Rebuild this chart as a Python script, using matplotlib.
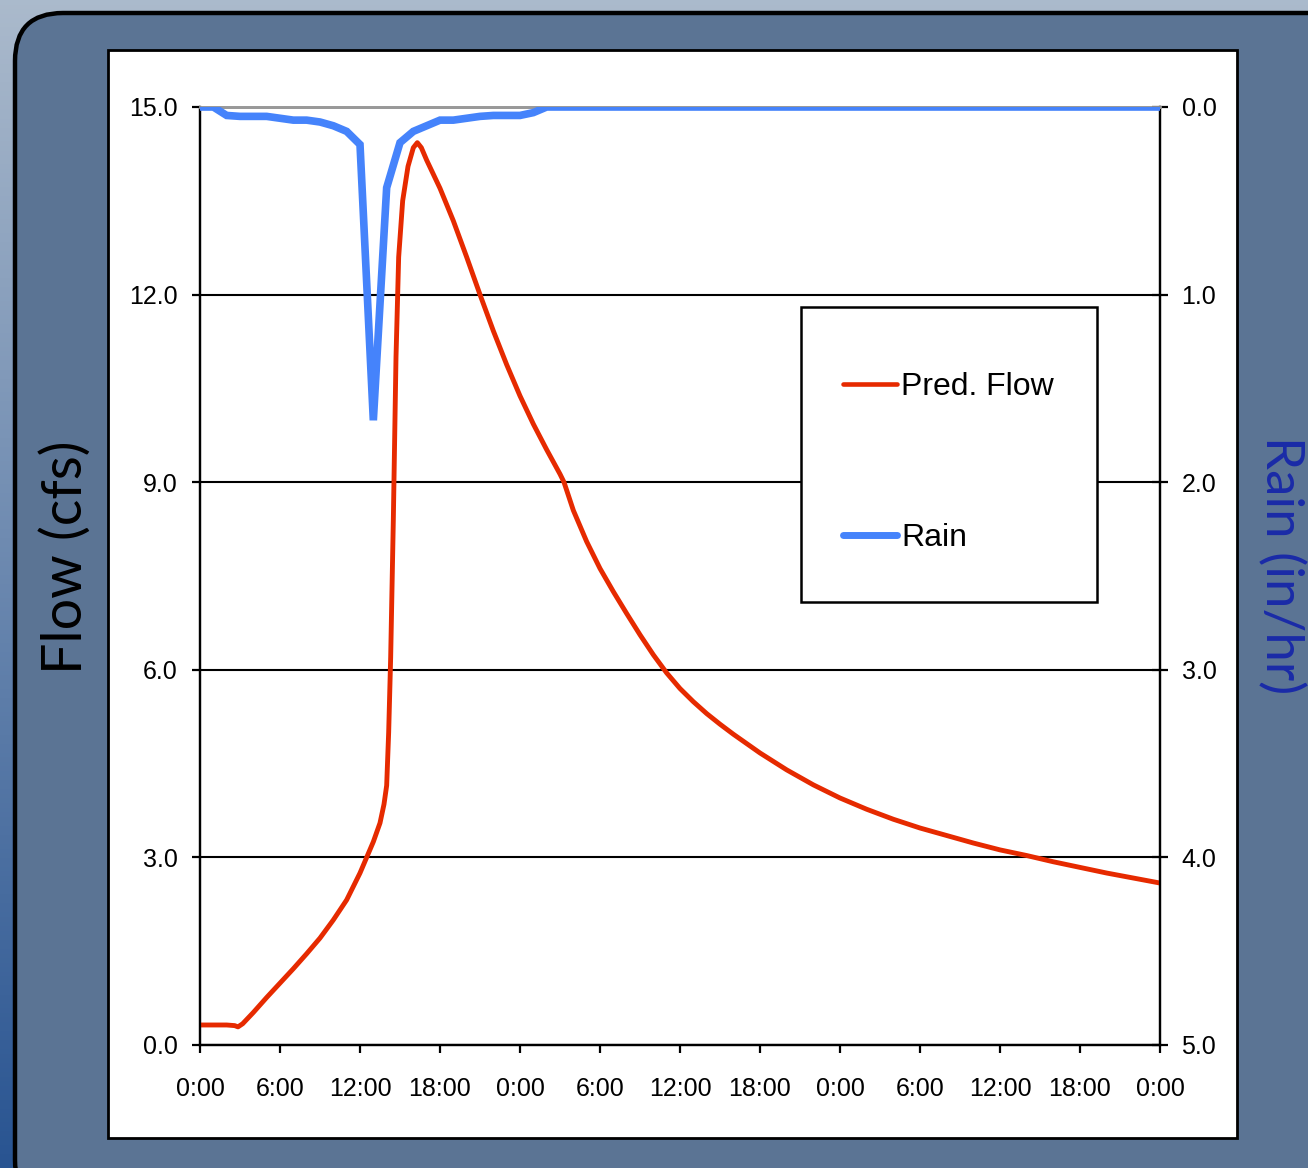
import matplotlib
matplotlib.use("Agg")
import matplotlib.pyplot as plt
import numpy as np
from matplotlib.patches import FancyBboxPatch, Rectangle
from matplotlib.lines import Line2D

# ---------------- data ----------------
flow_hours = [0, 1, 2, 2.6, 2.85, 3.2, 4, 5, 6, 7, 8, 9, 10, 11, 12, 13, 13.5,
              13.8, 14.0, 14.15, 14.3, 14.5, 14.7, 14.9, 15.2, 15.6, 16.0,
              16.3, 16.6, 17, 18, 19, 20, 21, 22, 23, 24, 25, 26, 27, 27.3,
              28, 29, 30, 31, 32, 33, 34, 35, 36, 37, 38, 39, 40, 41, 42, 44,
              46, 48, 50, 52, 54, 56, 58, 60, 62, 64, 66, 68, 70, 72]
flow_cfs = [0.32, 0.32, 0.32, 0.31, 0.29, 0.34, 0.52, 0.76, 0.99, 1.22, 1.46,
            1.71, 2.00, 2.32, 2.75, 3.25, 3.55, 3.85, 4.15, 5.0, 6.2, 8.4,
            11.0, 12.6, 13.5, 14.05, 14.35, 14.43, 14.35, 14.15, 13.7, 13.18,
            12.6, 12.0, 11.42, 10.88, 10.38, 9.93, 9.52, 9.13, 9.0, 8.55,
            8.05, 7.62, 7.25, 6.9, 6.56, 6.24, 5.95, 5.7, 5.49, 5.3, 5.13,
            4.97, 4.82, 4.67, 4.4, 4.16, 3.95, 3.77, 3.61, 3.47, 3.35, 3.23,
            3.12, 3.03, 2.93, 2.84, 2.75, 2.67, 2.59]

rain_hours = [0, 1, 2, 3, 4, 5, 6, 7, 8, 9, 10, 11, 12, 13, 14, 15, 16, 17,
              18, 19, 20, 21, 22, 23, 24, 25, 26, 72]
rain_inhr = [0.0, 0.0, 0.045, 0.05, 0.05, 0.05, 0.06, 0.07, 0.07, 0.08, 0.10,
             0.13, 0.20, 1.67, 0.43, 0.19, 0.13, 0.10, 0.07, 0.07, 0.06, 0.05,
             0.045, 0.045, 0.045, 0.03, 0.0, 0.0]

x_ticks = [0, 6, 12, 18, 24, 30, 36, 42, 48, 54, 60, 66, 72]
x_labels = ["0:00", "6:00", "12:00", "18:00", "0:00", "6:00", "12:00",
            "18:00", "0:00", "6:00", "12:00", "18:00", "0:00"]
flow_ticks = [0, 3, 6, 9, 12, 15]
rain_ticks = [0, 1, 2, 3, 4, 5]

RED = "#e62a00"
BLUE = "#4583fb"
LABEL_BLUE = "#1a2ba8"
TICK_FONT = ["Liberation Sans", "DejaVu Sans"]
LABEL_FONT = ["Lato", "DejaVu Sans"]

W, H = 1308, 1168
fig = plt.figure(figsize=(W / 100, H / 100), dpi=100)

# ---------------- background ----------------
bg = fig.add_axes([0, 0, 1, 1], zorder=-10)
bg.set_axis_off()
top = np.array([0.67, 0.73, 0.80])
bot = np.array([0.16, 0.33, 0.57])
t = np.linspace(0, 1, 256)[:, None]
grad = top[None, :] * (1 - t) + bot[None, :] * t
bg.imshow(grad[:, None, :], aspect="auto", extent=[0, 1, 0, 1])
bg.set_xlim(0, 1)
bg.set_ylim(0, 1)

panel = FancyBboxPatch((15, -40), 1360, 1168 - 13 + 40,
                       boxstyle="round,pad=0,rounding_size=48",
                       transform=None, facecolor="#5b7494",
                       edgecolor="black", linewidth=3.2, zorder=-5)
fig.patches.append(panel)

white = Rectangle((108, 1168 - 1138), 1237 - 108, 1138 - 50, transform=None,
                  facecolor="white", edgecolor="black", linewidth=2.0,
                  zorder=-4)
fig.patches.append(white)

# ---------------- main axes ----------------
ax = fig.add_axes([200 / W, (H - 1045) / H, 960 / W, 938 / H])
ax.set_facecolor("white")
ax.set_xlim(0, 72)
ax.set_ylim(0, 15)
ax.set_xticks(x_ticks)
ax.set_xticklabels(x_labels)
ax.set_yticks(flow_ticks)
ax.set_yticklabels([f"{v:.1f}" for v in flow_ticks])
ax.yaxis.grid(True, color="black", linewidth=1.5)
ax.set_axisbelow(True)
for side in ["left", "bottom"]:
    ax.spines[side].set_linewidth(1.6)
    ax.spines[side].set_color("black")
ax.spines["top"].set_color("#999999")
ax.spines["top"].set_linewidth(2.0)
ax.spines["right"].set_linewidth(1.6)
ax.tick_params(axis="x", direction="out", length=6, width=1.6, pad=17,
               labelsize=18)
ax.tick_params(axis="y", direction="out", length=6, width=1.6, pad=10,
               labelsize=18)
for lab in ax.get_xticklabels() + ax.get_yticklabels():
    lab.set_family(TICK_FONT)

ax.plot(flow_hours, flow_cfs, color=RED, linewidth=3.5, zorder=3,
        solid_capstyle="round", solid_joinstyle="round")

# ---------------- rain axis ----------------
ax2 = ax.twinx()
ax2.set_ylim(5, 0)
ax2.set_yticks(rain_ticks)
ax2.set_yticklabels([f"{v:.1f}" for v in rain_ticks])
ax2.tick_params(axis="y", direction="inout", length=11, width=1.6, pad=10,
                labelsize=18)
for lab in ax2.get_yticklabels():
    lab.set_family(TICK_FONT)
ax2.spines["top"].set_color("#999999")
ax2.spines["top"].set_linewidth(2.0)
ax2.spines["right"].set_linewidth(1.6)
ax2.spines["left"].set_linewidth(1.6)
ax2.spines["bottom"].set_linewidth(1.6)
ax2.plot(rain_hours, rain_inhr, color=BLUE, linewidth=5.5, zorder=3,
         solid_joinstyle="miter")

# ---------------- legend ----------------
leg_box = Rectangle((801, H - 602), 1097 - 801, 602 - 307, transform=None,
                    facecolor="white", edgecolor="black", linewidth=1.8,
                    zorder=4)
fig.patches.append(leg_box)
handles = [Line2D([], [], color=RED, linewidth=3.3, solid_capstyle="round"),
           Line2D([], [], color=BLUE, linewidth=5.0, solid_capstyle="round")]
leg = fig.legend(handles, ["Pred. Flow", "Rain"], loc="upper left",
                 bbox_to_anchor=(843 / W, (H - 372) / H), frameon=False,
                 prop={"family": TICK_FONT, "size": 23}, handlelength=1.68,
                 handletextpad=0.14, labelspacing=3.8, borderpad=0,
                 borderaxespad=0)
leg.set_zorder(6)

# ---------------- axis labels ----------------
fig.text(66 / W, (H - 557) / H, "Flow (cfs)", rotation=90, ha="center",
         va="center", fontsize=40, family=LABEL_FONT, color="black")
fig.text(1281 / W, (H - 565) / H, "Rain (in/hr)", rotation=-90, ha="center",
         va="center", fontsize=38, family=LABEL_FONT, color=LABEL_BLUE)

fig.savefig("out.png", dpi=100)
